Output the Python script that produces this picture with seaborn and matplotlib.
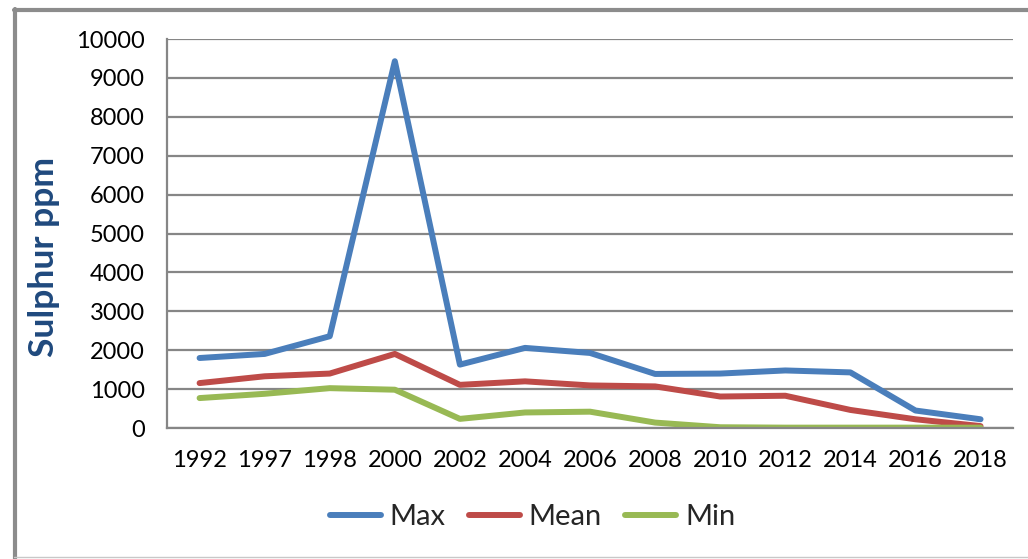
import pandas as pd
import matplotlib
matplotlib.use("Agg")
import matplotlib.pyplot as plt
from matplotlib.lines import Line2D
import seaborn as sns

# Data
years = ["1992", "1997", "1998", "2000", "2002", "2004", "2006",
         "2008", "2010", "2012", "2014", "2016", "2018"]
max_vals = [1800, 1905, 2360, 9430, 1630, 2060, 1930, 1390, 1400, 1480, 1430, 450, 225]
mean_vals = [1155, 1330, 1400, 1905, 1110, 1200, 1095, 1070, 810, 830, 465, 225, 50]
min_vals = [770, 880, 1025, 985, 235, 400, 420, 140, 20, 10, 10, 10, 10]
series_names = ["Max", "Mean", "Min"]
colors = ["#4a7ebb", "#be4b48", "#98b954"]

df = pd.DataFrame({"Year": years * 3,
                   "Value": max_vals + mean_vals + min_vals,
                   "Series": [s for s in series_names for _ in years]})

sns.set_style("white")
plt.rcParams['font.family'] = ['Lato', 'DejaVu Sans']

fig = plt.figure(figsize=(10.28, 5.59), dpi=100)
ax = fig.add_axes([0.1625, 0.2343, 0.823, 0.6959])

sns.lineplot(data=df, x="Year", y="Value", hue="Series", palette=colors,
             linewidth=4.3, sort=False, ax=ax, legend=False,
             solid_capstyle="round", solid_joinstyle="round")

ax.set_xlim(-0.5, len(years) - 0.5)
ax.set_ylim(0, 10000)
ax.set_yticks(range(0, 10001, 1000))
ax.yaxis.grid(True, color="#868686", linewidth=1.6)
ax.set_axisbelow(True)
for side in ["top", "right"]:
    ax.spines[side].set_visible(False)
for side in ["left", "bottom"]:
    ax.spines[side].set_color("#868686")
    ax.spines[side].set_linewidth(1.6)
ax.tick_params(axis="both", length=0, labelsize=17, colors="black")
ax.tick_params(axis="x", pad=16)
ax.tick_params(axis="y", pad=16)
ax.set_xlabel("")
ax.set_ylabel("Sulphur ppm", fontsize=25.5, fontweight="bold", color="#1f497d")
ax.yaxis.set_label_coords(-0.127, 0.44)

handles = [Line2D([0], [0], color=c, linewidth=4.3, solid_capstyle="round") for c in colors]
fig.legend(handles, series_names, loc="center", bbox_to_anchor=(0.518, 0.075),
           ncol=3, frameon=False, fontsize=21, handlelength=1.75,
           handletextpad=0.3, columnspacing=0.8)

# outer chart border
fig.add_artist(Line2D([14 / 1028, 1.0], [1 - 10 / 559, 1 - 10 / 559],
                      transform=fig.transFigure, color="#8c8c8c", linewidth=3))
fig.add_artist(Line2D([15 / 1028, 15 / 1028], [0, 1 - 9 / 559],
                      transform=fig.transFigure, color="#8c8c8c", linewidth=3))
fig.add_artist(Line2D([14 / 1028, 1.0], [2 / 559, 2 / 559],
                      transform=fig.transFigure, color="#c8c8c8", linewidth=1))

fig.savefig("out.png", dpi=100)
